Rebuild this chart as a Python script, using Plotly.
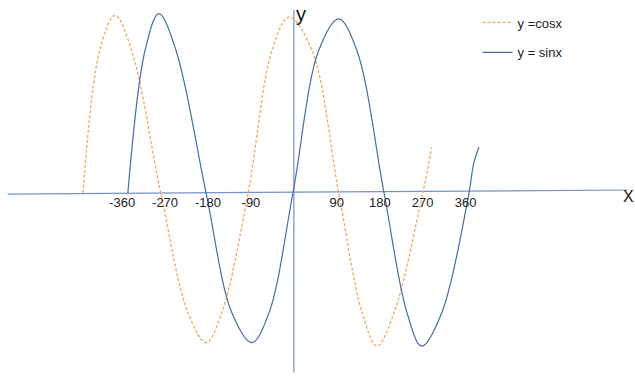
import plotly.graph_objects as go

# Hand-sketched y = cos x and y = sin x curves (x in degrees)
cos_x = [-442, -407, -375, -340, -279,
         -222, -184, -151, -96,
         -46, -10, 38, 94,
         143, 174, 210, 270,
         289]
cos_y = [0, 0.81, 1.01, 0.81, 0,
         -0.68, -0.85, -0.68, 0,
         0.81, 1.0, 0.81, 0,
         -0.68, -0.87, -0.68, 0,
         0.26]

sin_x = [-348, -312, -283, -247, -184,
         -130, -88, -52, -2,
         52, 94, 132, 189,
         237, 268, 310, 367,
         377, 388]
sin_y = [0, 0.81, 1.02, 0.81, 0,
         -0.68, -0.85, -0.68, 0,
         0.81, 0.99, 0.81, 0,
         -0.68, -0.87, -0.68, 0,
         0.17, 0.26]

tick_vals = [-360, -270, -180, -90, 90, 180, 270, 360]
tick_text = ["-360", "-270", "-180", "-90", "90", "180", "270", "360"]

X_RANGE = [-616, 715]
Y_RANGE = [-1.04, 1.097]

AXIS_BLUE = "#7393c9"
SIN_BLUE = "#4d6aa8"
COS_ORANGE = "#f0a564"
FONT = "Liberation Sans"

fig = go.Figure()

fig.add_trace(go.Scatter(
    x=cos_x, y=cos_y, mode="lines", name="y =cosx",
    line=dict(color=COS_ORANGE, width=1.3, dash="3px,2px", shape="spline", smoothing=1.0),
    legendgroup="cos",
))
fig.add_trace(go.Scatter(
    x=sin_x, y=sin_y, mode="lines", name="y = sinx",
    line=dict(color=SIN_BLUE, width=1.2, shape="spline", smoothing=1.0),
    legendgroup="sin",
))

# Hand-drawn coordinate axes
fig.add_shape(type="line", x0=-600, y0=-0.006, x1=700, y1=0.017,
              line=dict(color=AXIS_BLUE, width=1.2), layer="below")
fig.add_shape(type="line", x0=0, y0=1.04, x1=0, y1=-1.02,
              line=dict(color=AXIS_BLUE, width=1.2), layer="below")

fig.add_annotation(x=0, y=1.02, text="y", showarrow=False, xanchor="left", yanchor="middle",
                   font=dict(family=FONT, size=20, color="#111"))
fig.add_annotation(x=702, y=-0.02, text="X", showarrow=False, xanchor="center", yanchor="middle",
                   font=dict(family=FONT, size=16, color="#111"))

fig.update_xaxes(
    range=X_RANGE, tickvals=tick_vals, ticktext=tick_text,
    showgrid=False, zeroline=False, showline=False, ticks="",
    anchor="free", position=(0 - Y_RANGE[0]) / (Y_RANGE[1] - Y_RANGE[0]),
    automargin=False, tickfont=dict(family=FONT, size=13, color="#222"),
)
fig.update_yaxes(range=Y_RANGE, visible=False, showgrid=False, zeroline=False)

fig.update_layout(
    width=635, height=376,
    margin=dict(l=0, r=0, t=0, b=0),
    paper_bgcolor="white", plot_bgcolor="white",
    showlegend=True,
    legend=dict(x=0.752, y=0.98, xanchor="left", yanchor="top",
                font=dict(family=FONT, size=13, color="#222"),
                bgcolor="rgba(0,0,0,0)", tracegroupgap=10, itemwidth=30),
)

fig.write_html("out.html")
